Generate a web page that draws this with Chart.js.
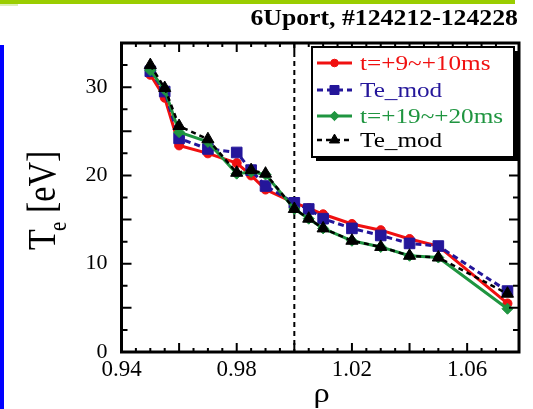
<!DOCTYPE html>
<html>
<head>
<meta charset="utf-8">
<script src="https://cdn.jsdelivr.net/npm/chart.js@4/dist/chart.umd.min.js"></script>
<style>
  html, body { margin: 0; padding: 0; background: #fff; overflow: hidden; }
  #wrap { width: 533px; height: 409px; position: relative; }
</style>
</head>
<body>
<div id="wrap"><canvas id="teChart" width="533" height="409"></canvas></div>
<script>
// normalized radius (shared by all four profiles)
const rho = [0.95, 0.955, 0.96, 0.97, 0.98, 0.985, 0.99, 1.0, 1.005, 1.01, 1.02, 1.03, 1.04, 1.05, 1.074];

// Te [eV]
const teEarly    = [31.4, 28.8, 23.4, 22.5, 21.4, 20.0, 18.4, 16.9, 16.3, 15.6, 14.5, 13.8, 12.8, 12.0, 5.5];
const teEarlyMod = [31.8, 29.5, 24.2, 23.0, 22.6, 20.6, 18.8, 16.9, 16.2, 15.1, 14.0, 13.2, 12.3, 12.0, 6.9];
const teLate     = [31.9, 29.7, 24.9, 23.8, 20.2, 20.4, 20.1, 16.2, 15.1, 14.0, 12.6, 11.9, 10.9, 10.7, 4.9];
const teLateMod  = [32.5, 29.9, 25.6, 24.1, 20.3, 20.6, 20.2, 16.2, 15.1, 14.0, 12.6, 11.9, 10.9, 10.7, 6.6];

const seriesLabels = ['t=+9~+10ms', 'Te_mod', 't=+19~+20ms', 'Te_mod'];
const xLabelTicks = [0.94, 0.98, 1.02, 1.06];
const yLabelTicks = [0, 10, 20, 30];
const separatrix = 1.0;
const titleText = '6Uport, #124212-124228';

const SERIF = '"Liberation Serif", "DejaVu Serif", serif';

const seriesStyle = [
    { color: '#f01010', dash: [], width: 3, point: 'circle', radius: 4.5 },
    { color: '#24169a', dash: [6, 4], width: 3, point: 'rect', radius: 7.5 },
    { color: '#1f9540', dash: [], width: 3, point: 'rectRot', radius: 5.5 },
    { color: '#000000', dash: [5, 4], width: 2.5, point: 'triangle', radius: 7 }
];
const seriesData = [teEarly, teEarlyMod, teLate, teLateMod];

const datasets = seriesData.map((vals, i) => ({
    label: seriesLabels[i],
    data: vals.map((v, k) => ({ x: rho[k], y: v })),
    borderColor: seriesStyle[i].color,
    backgroundColor: seriesStyle[i].color,
    borderWidth: seriesStyle[i].width,
    borderDash: seriesStyle[i].dash,
    pointStyle: seriesStyle[i].point,
    pointRadius: seriesStyle[i].radius,
    pointBackgroundColor: seriesStyle[i].color,
    pointBorderColor: seriesStyle[i].color,
    pointBorderWidth: 1,
    tension: 0,
    order: 3 - i
}));

function stretchedText(ctx, text, x, y, align, sx) {
    ctx.save();
    const w = ctx.measureText(text).width * sx;
    let left = x;
    if (align === 'right') left = x - w;
    if (align === 'center') left = x - w / 2;
    ctx.translate(left, y);
    ctx.scale(sx, 1);
    ctx.textAlign = 'left';
    ctx.fillText(text, 0, 0);
    ctx.restore();
}

function drawMarker(ctx, style, x, y, r) {
    ctx.beginPath();
    if (style === 'circle') {
        ctx.arc(x, y, r, 0, Math.PI * 2);
    } else if (style === 'rect') {
        const s = r * Math.SQRT1_2;
        ctx.rect(x - s, y - s, 2 * s, 2 * s);
    } else if (style === 'rectRot') {
        ctx.moveTo(x, y - r);
        ctx.lineTo(x + r, y);
        ctx.lineTo(x, y + r);
        ctx.lineTo(x - r, y);
        ctx.closePath();
    } else {
        ctx.moveTo(x, y - r);
        ctx.lineTo(x + 0.866 * r, y + 0.5 * r);
        ctx.lineTo(x - 0.866 * r, y + 0.5 * r);
        ctx.closePath();
    }
    ctx.fill();
    ctx.stroke();
}

const decor = {
    id: 'decor',
    beforeDraw(chart) {
        const ctx = chart.ctx;
        ctx.save();
        ctx.fillStyle = '#fff';
        ctx.fillRect(0, 0, chart.width, chart.height);
        // slide decorations
        ctx.fillStyle = '#9acd00';
        ctx.fillRect(0, 0, 515, 4);
        ctx.fillStyle = '#dcefb8';
        ctx.fillRect(0, 4, 18, 2);
        ctx.fillStyle = '#0000ff';
        ctx.fillRect(0, 45, 4, chart.height - 45);

        // title
        ctx.fillStyle = '#000';
        ctx.font = 'bold 23px ' + SERIF;
        ctx.textBaseline = 'alphabetic';
        stretchedText(ctx, titleText, 518, 25, 'right', 1.12);
        ctx.restore();
    },
    beforeDatasetsDraw(chart) {
        const { ctx, chartArea } = chart;
        const x = chart.scales.x.getPixelForValue(separatrix);
        ctx.save();
        ctx.strokeStyle = '#000';
        ctx.lineWidth = 2;
        ctx.setLineDash([5, 4]);
        ctx.beginPath();
        ctx.moveTo(x, chartArea.top);
        ctx.lineTo(x, chartArea.bottom);
        ctx.stroke();
        ctx.restore();
    },
    afterDatasetsDraw(chart) {
        const { ctx, chartArea: a } = chart;
        const xs = chart.scales.x, ys = chart.scales.y;
        ctx.save();
        ctx.strokeStyle = '#000';
        ctx.lineWidth = 2;
        ctx.beginPath();
        xs.ticks.forEach(t => {
            const v = t.value;
            if (v > xs.max - 1e-9 || v < xs.min + 1e-9) return;
            const major = Math.round(v * 1000) % 20 === 0;
            const len = major ? 9 : 4;
            const px = xs.getPixelForValue(v);
            ctx.moveTo(px, a.bottom);
            ctx.lineTo(px, a.bottom - len);
            ctx.moveTo(px, a.top);
            ctx.lineTo(px, a.top + len);
        });
        ys.ticks.forEach(t => {
            const v = t.value;
            if (v >= ys.max || v <= ys.min) return;
            const len = v % 5 === 0 ? 10 : 6;
            const py = ys.getPixelForValue(v);
            ctx.moveTo(a.left, py);
            ctx.lineTo(a.left + len, py);
            ctx.moveTo(a.right, py);
            ctx.lineTo(a.right - len, py);
        });
        ctx.stroke();
        // frame
        ctx.lineWidth = 3;
        ctx.strokeRect(a.left, a.top, a.right - a.left, a.bottom - a.top);
        ctx.restore();
    },
    afterDraw(chart) {
        const ctx = chart.ctx;
        ctx.save();
        // axis titles
        ctx.fillStyle = '#000';
        ctx.textBaseline = 'alphabetic';
        ctx.font = '27px ' + SERIF;
        stretchedText(ctx, '\u03C1', 321.5, 402, 'center', 1.2);

        ctx.save();
        ctx.translate(55, 250);
        ctx.rotate(-Math.PI / 2);
        ctx.scale(1, 1.2);
        ctx.font = '34px ' + SERIF;
        ctx.fillText('T', 0, 0);
        ctx.font = '21px ' + SERIF;
        ctx.fillText('e', 19, 9);
        ctx.font = '34px ' + SERIF;
        ctx.fillText('[eV]', 37, 0);
        ctx.restore();

        // legend box
        const bx = 312, by = 47, bw = 202, bh = 110;
        ctx.fillStyle = '#000';
        ctx.fillRect(bx + 4, by + 4, bw, bh);
        ctx.fillStyle = '#fff';
        ctx.fillRect(bx, by, bw, bh);
        ctx.strokeStyle = '#000';
        ctx.lineWidth = 2;
        ctx.strokeRect(bx, by, bw, bh);

        const rowY = [63, 90, 116, 140];
        chart.data.datasets.forEach((ds, i) => {
            const st = seriesStyle[i];
            const y = rowY[i];
            ctx.strokeStyle = st.color;
            ctx.fillStyle = st.color;
            ctx.lineWidth = st.width;
            ctx.setLineDash(st.dash);
            ctx.beginPath();
            ctx.moveTo(317, y);
            ctx.lineTo(352, y);
            ctx.stroke();
            ctx.setLineDash([]);
            ctx.lineWidth = 1;
            drawMarker(ctx, st.point, 334.5, y, st.radius * 0.85);
            ctx.font = '21px ' + SERIF;
            ctx.textBaseline = 'middle';
            stretchedText(ctx, ds.label, 360, y + 1, 'left', 1.2);
        });
        ctx.restore();
    }
};

new Chart(document.getElementById('teChart').getContext('2d'), {
    type: 'line',
    data: { datasets },
    options: {
        responsive: false,
        animation: false,
        devicePixelRatio: 1,
        layout: { padding: { top: 43, right: 14, left: 0, bottom: 0 } },
        plugins: {
            legend: { display: false },
            tooltip: { enabled: false },
            title: { display: false }
        },
        scales: {
            x: {
                type: 'linear',
                min: 0.94,
                max: 1.078,
                grid: { display: false },
                border: { display: false },
                afterFit: (scale) => { scale.height = 57; },
                ticks: {
                    stepSize: 0.005,
                    autoSkip: false,
                    maxRotation: 0,
                    padding: -4,
                    color: '#000',
                    font: { family: SERIF, size: 23 },
                    callback: (v) => xLabelTicks.some(t => Math.abs(t - v) < 1e-6) ? v.toFixed(2) : ''
                }
            },
            y: {
                min: 0,
                max: 35,
                grid: { display: false },
                border: { display: false },
                afterFit: (scale) => { scale.width = 121.5; },
                ticks: {
                    stepSize: 2.5,
                    autoSkip: false,
                    padding: 6,
                    color: '#000',
                    font: { family: SERIF, size: 22 },
                    callback: (v) => yLabelTicks.includes(v) ? String(v) : ''
                }
            }
        }
    },
    plugins: [decor]
});
</script>
</body>
</html>
